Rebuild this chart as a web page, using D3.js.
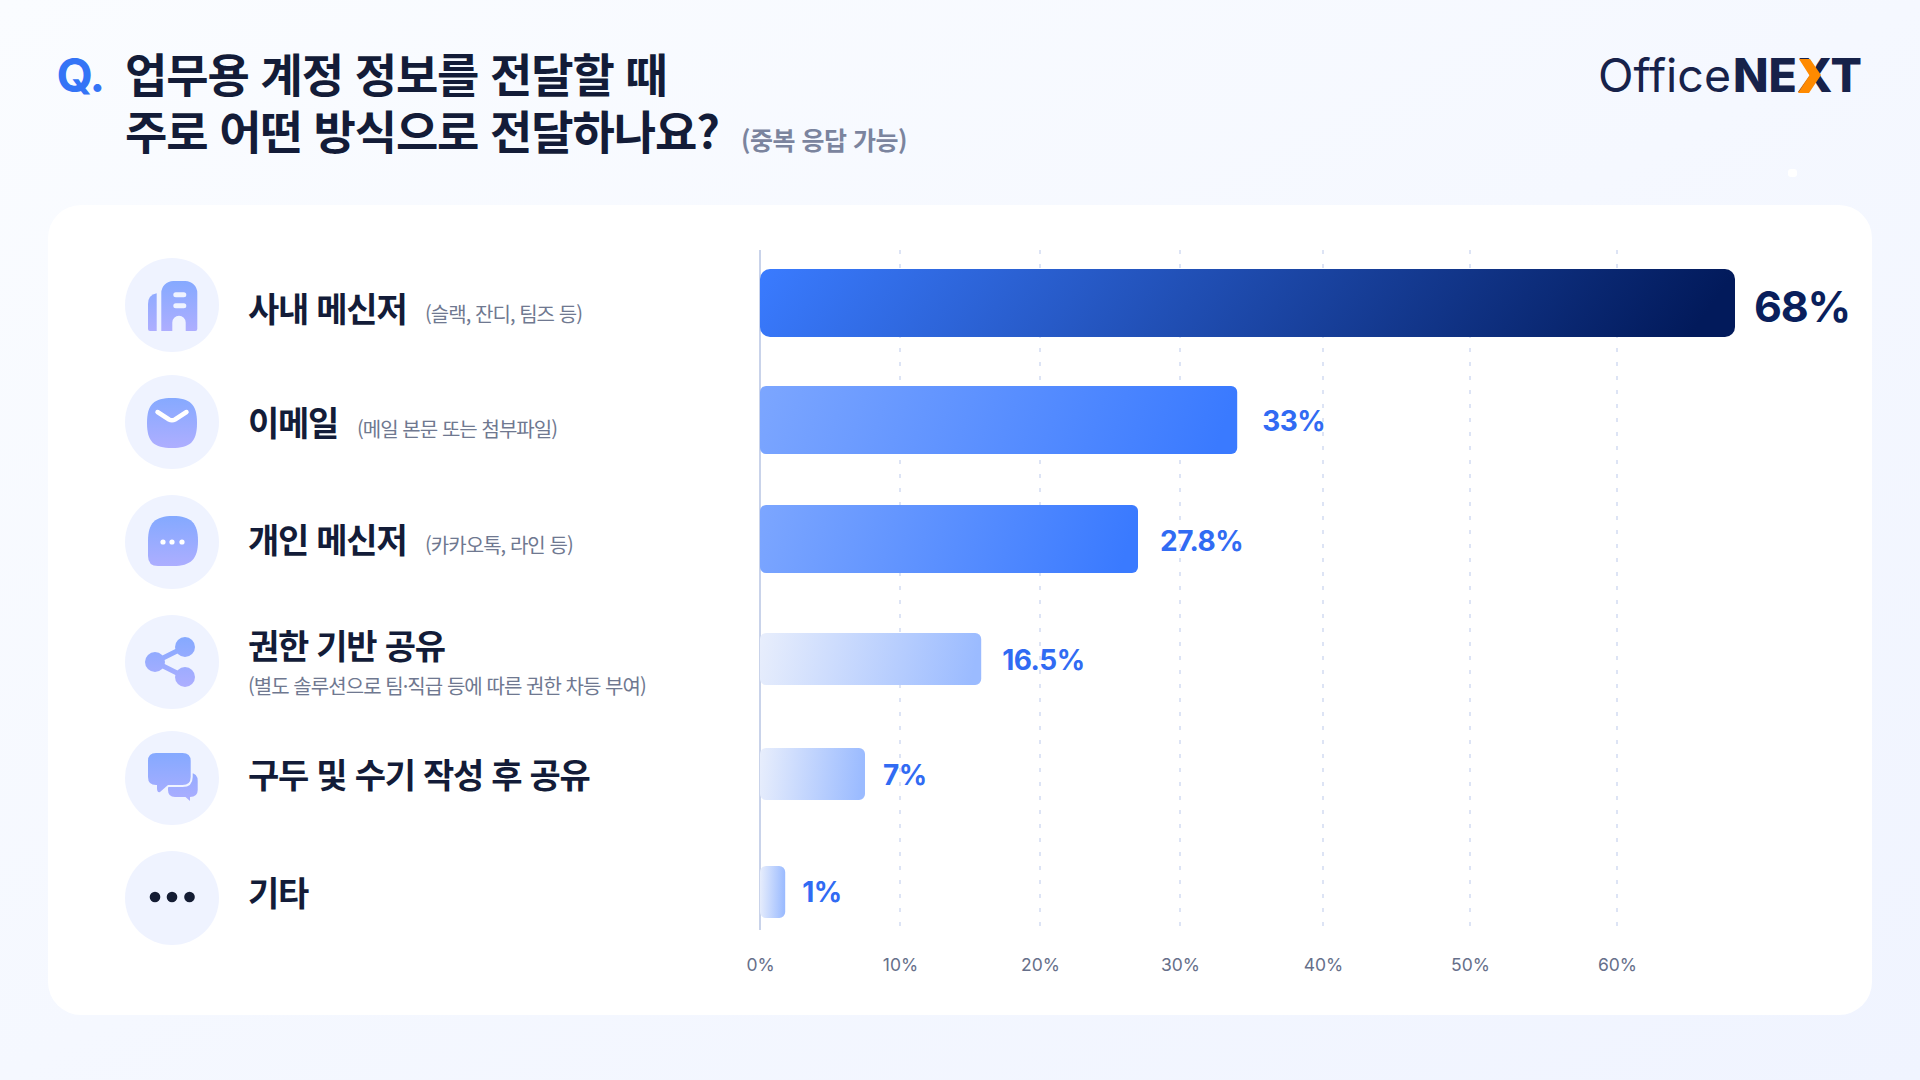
<!DOCTYPE html>
<html lang="ko">
<head>
<meta charset="utf-8">
<title>업무용 계정 정보 전달 방식</title>
<script src="https://cdn.jsdelivr.net/npm/d3@7"></script>
<style>
    html, body { margin: 0; padding: 0; background: #f3f6ff; }
    svg { display: block; }
</style>
</head>
<body>
<div id="chart"></div>
<script>
// Chart data
const categories = ['사내 메신저', '이메일', '개인 메신저', '권한 기반 공유', '구두 및 수기 작성 후 공유', '기타'];
const notes = ['(슬랙, 잔디, 팀즈 등)', '(메일 본문 또는 첨부파일)', '(카카오톡, 라인 등)', '(별도 솔루션으로 팀·직급 등에 따른 권한 차등 부여)', '', ''];
const valueLabels = ['68%', '33%', '27.8%', '16.5%', '7%', '1%'];
// Bar lengths as they read on the axis (the picture does not follow its printed labels exactly)
const barValues = [68, 34, 27, 15.8, 7.5, 1.8];
const axisTicks = [0, 10, 20, 30, 40, 50, 60];
const iconNames = ['building', 'mail', 'chat', 'share', 'bubbles', 'dots'];

const width = 1920;
const height = 1080;
const krFont = '"Noto Sans CJK KR", "Noto Sans", sans-serif';
const numFont = 'Inter, "Noto Sans", sans-serif';

const svg = d3.select('#chart').append('svg')
    .attr('width', width)
    .attr('height', height)
    .attr('viewBox', `0 0 ${width} ${height}`);

const defs = svg.append('defs');

function addGradient(id, from, to, tilt = 0.05) {
    const grad = defs.append('linearGradient')
        .attr('id', id)
        .attr('x1', 0).attr('y1', 0)
        .attr('x2', 1).attr('y2', tilt);
    grad.append('stop').attr('offset', '0%').attr('stop-color', from);
    grad.append('stop').attr('offset', '100%').attr('stop-color', to);
}

addGradient('page-bg', '#fafcff', '#f0f4ff', 1);
addGradient('bar-top', '#3a7bff', '#021a5b');
addGradient('bar-mid', '#7ca6ff', '#3a7aff');
addGradient('bar-low', '#e8eefc', '#9bbbff');

// Icon fill, in each icon's local coordinates
const iconGrad = defs.append('linearGradient')
    .attr('id', 'icon-fill')
    .attr('gradientUnits', 'userSpaceOnUse')
    .attr('x1', 0).attr('y1', -26)
    .attr('x2', 0).attr('y2', 26);
iconGrad.append('stop').attr('offset', '0%').attr('stop-color', '#84a9ff');
iconGrad.append('stop').attr('offset', '100%').attr('stop-color', '#aeaeff');

// Background and card
svg.append('rect')
    .attr('width', width)
    .attr('height', height)
    .attr('fill', 'url(#page-bg)');

svg.append('rect')
    .attr('x', 1788)
    .attr('y', 169)
    .attr('width', 9)
    .attr('height', 8)
    .attr('rx', 3)
    .attr('fill', '#ffffff');

svg.append('rect')
    .attr('x', 48)
    .attr('y', 205)
    .attr('width', 1824)
    .attr('height', 810)
    .attr('rx', 33)
    .attr('fill', '#ffffff');

// Title
svg.append('text')
    .attr('x', 56.5)
    .attr('y', 92)
    .attr('font-family', numFont)
    .attr('font-size', 47)
    .attr('font-weight', 700)
    .attr('letter-spacing', -1.5)
    .attr('fill', '#3474f6')
    .text('Q.');

const titleLines = ['업무용 계정 정보를 전달할 때', '주로 어떤 방식으로 전달하나요?'];
svg.selectAll('text.title')
    .data(titleLines)
    .join('text')
    .attr('class', 'title')
    .attr('x', 125)
    .attr('y', (d, i) => 92 + i * 57)
    .attr('font-family', krFont)
    .attr('font-size', 46)
    .attr('font-weight', 700)
    .attr('letter-spacing', -1.1)
    .attr('fill', '#131c38')
    .text(d => d);

svg.append('text')
    .attr('x', 741)
    .attr('y', 150)
    .attr('font-family', krFont)
    .attr('font-size', 25)
    .attr('font-weight', 600)
    .attr('letter-spacing', -0.5)
    .attr('fill', '#7b849e')
    .text('(중복 응답 가능)');

// Logo
svg.append('text')
    .attr('x', 1598)
    .attr('y', 92)
    .attr('font-family', numFont)
    .attr('font-size', 46)
    .attr('font-weight', 400)
    .attr('textLength', 133)
    .attr('lengthAdjust', 'spacingAndGlyphs')
    .attr('fill', '#17224a')
    .text('Office');

svg.append('text')
    .attr('x', 1733)
    .attr('y', 92)
    .attr('font-family', numFont)
    .attr('font-size', 46)
    .attr('font-weight', 800)
    .attr('textLength', 129)
    .attr('lengthAdjust', 'spacingAndGlyphs')
    .attr('fill', '#17224a')
    .text('NEXT');

svg.append('polygon')
    .attr('points', '1799,59 1810,59 1821,75 1809,93 1798,93 1809.5,75.5')
    .attr('fill', '#ff8a00');

// Scales. The printed axis is not evenly spaced, so x is piecewise over its ticks
const x = d3.scaleLinear()
    .domain([0, 10, 20, 30, 40, 50, 60, 68])
    .range([760, 900, 1040, 1180, 1323, 1470, 1617, 1735]);

const rowY = d3.scaleOrdinal()
    .domain(categories)
    .range([303, 420, 539, 659, 774, 892]);

const iconY = d3.scaleOrdinal()
    .domain(categories)
    .range([305, 422, 542, 662, 778, 898]);

const labelY = d3.scaleOrdinal()
    .domain(categories)
    .range([322, 436, 553, 659, 788, 906]);

const noteLayout = [
    { x: 425, y: 322 },
    { x: 357, y: 437 },
    { x: 425, y: 553 },
    { x: 248, y: 694 }
];

const rows = categories.map((name, i) => ({
    name,
    note: notes[i],
    label: valueLabels[i],
    value: barValues[i],
    icon: iconNames[i],
    index: i
}));

function barStyle(i) {
    if (i === 0) return { fill: 'url(#bar-top)', h: 68, r: 10 };
    if (i < 3) return { fill: 'url(#bar-mid)', h: 68, r: 6 };
    return { fill: 'url(#bar-low)', h: 52, r: 6 };
}

// Grid
const gridTop = 250;
const gridBottom = 930;

svg.selectAll('line.grid')
    .data(axisTicks.slice(1))
    .join('line')
    .attr('class', 'grid')
    .attr('x1', d => x(d))
    .attr('x2', d => x(d))
    .attr('y1', gridTop)
    .attr('y2', gridBottom)
    .attr('stroke', '#dde4f5')
    .attr('stroke-width', 2)
    .attr('stroke-dasharray', '4 10');

// Zero line, under the bars
svg.append('line')
    .attr('x1', x(0))
    .attr('x2', x(0))
    .attr('y1', gridTop)
    .attr('y2', gridBottom)
    .attr('stroke', '#c9d3ea')
    .attr('stroke-width', 2);

// Bars
svg.selectAll('rect.bar')
    .data(rows)
    .join('rect')
    .attr('class', 'bar')
    .attr('x', x(0))
    .attr('y', d => rowY(d.name) - barStyle(d.index).h / 2)
    .attr('width', d => x(d.value) - x(0))
    .attr('height', d => barStyle(d.index).h)
    .attr('rx', d => barStyle(d.index).r)
    .attr('fill', d => barStyle(d.index).fill);

// Value labels
const labelGap = [19, 25, 22, 21, 18, 17];
const labelBase = [322, 431, 551, 670, 785, 902];

svg.selectAll('text.value')
    .data(rows)
    .join('text')
    .attr('class', 'value')
    .attr('x', d => x(d.value) + labelGap[d.index])
    .attr('y', d => labelBase[d.index])
    .attr('font-family', numFont)
    .attr('font-size', d => d.index === 0 ? 43 : 28)
    .attr('font-weight', 700)
    .attr('letter-spacing', d => d.index === 0 ? -1.2 : -0.5)
    .attr('fill', d => d.index === 0 ? '#0a1f5c' : '#316bf3')
    .text(d => d.label);

// Axis
const axis = d3.axisBottom(x)
    .tickValues(axisTicks)
    .tickFormat(d => d + '%')
    .tickSize(0);

const axisG = svg.append('g')
    .attr('transform', `translate(0, ${gridBottom})`)
    .call(axis);

axisG.select('.domain').remove();
axisG.selectAll('text')
    .attr('y', 41)
    .attr('dy', 0)
    .attr('font-family', numFont)
    .attr('font-size', 17.5)
    .attr('fill', '#666f8a');

// Row labels
svg.selectAll('text.cat')
    .data(rows)
    .join('text')
    .attr('class', 'cat')
    .attr('x', 248)
    .attr('y', d => labelY(d.name))
    .attr('font-family', krFont)
    .attr('font-size', 34)
    .attr('font-weight', 700)
    .attr('letter-spacing', -1.25)
    .attr('fill', '#131c38')
    .text(d => d.name);

svg.selectAll('text.note')
    .data(rows.filter(d => d.note))
    .join('text')
    .attr('class', 'note')
    .attr('x', d => noteLayout[d.index].x)
    .attr('y', d => noteLayout[d.index].y)
    .attr('font-family', krFont)
    .attr('font-size', 20)
    .attr('font-weight', 400)
    .attr('letter-spacing', -0.95)
    .attr('fill', '#6f7890')
    .text(d => d.note);

// Icons, drawn around each circle's centre
const iconCircle = '#eff3ff';
const iconFill = 'url(#icon-fill)';

const iconDrawers = {
    building(g) {
        g.append('path')
            .attr('fill', iconFill)
            .attr('fill-rule', 'evenodd')
            .attr('d', 'M-10.7 26V-12A12 12 0 0 1 1.3 -24H13.3A12 12 0 0 1 25.3 -12V24A2 2 0 0 1 23.3 26H13.7V17.5A6.7 6.7 0 0 0 0.3 17.5V26Z'
                + 'M3.8 -12.7H11.8A2.5 2.5 0 0 1 11.8 -7.7H3.8A2.5 2.5 0 0 1 3.8 -12.7Z'
                + 'M3.8 -1.7H11.8A2.5 2.5 0 0 1 11.8 3.3H3.8A2.5 2.5 0 0 1 3.8 -1.7Z');
        g.append('path')
            .attr('fill', iconFill)
            .attr('d', 'M-24 -1Q-24 -10 -15.3 -11.7V26H-22A2 2 0 0 1 -24 24Z');
    },
    mail(g) {
        g.append('path')
            .attr('fill', iconFill)
            .attr('d', 'M-25 1C-25 -18 -18 -24 0 -24C18 -24 25 -18 25 1C25 20 18 26 0 26C-18 26 -25 20 -25 1Z');
        g.append('path')
            .attr('fill', 'none')
            .attr('stroke', '#ffffff')
            .attr('stroke-width', 4.5)
            .attr('stroke-linecap', 'round')
            .attr('d', 'M-14.5 -10L-3 -2.5Q0 -0.8 3 -2.5L14.5 -10');
    },
    chat(g) {
        g.append('path')
            .attr('fill', iconFill)
            .attr('d', 'M-24 -1C-24 -19 -17 -26 1 -26C19 -26 26 -19 26 -1C26 17 19 24 1 24H-14Q-24 24 -24 14Z');
        g.selectAll('circle')
            .data([-9, 0, 10])
            .join('circle')
            .attr('cx', d => d)
            .attr('cy', 0)
            .attr('r', 2.6)
            .attr('fill', '#ffffff');
    },
    share(g) {
        g.append('path')
            .attr('fill', 'none')
            .attr('stroke', iconFill)
            .attr('stroke-width', 5)
            .attr('d', 'M13 -15L-17 0L13 15');
        g.selectAll('circle')
            .data([[13, -15], [-17, 0], [13, 15]])
            .join('circle')
            .attr('cx', d => d[0])
            .attr('cy', d => d[1])
            .attr('r', 10)
            .attr('fill', iconFill);
    },
    bubbles(g) {
        g.append('path')
            .attr('fill', iconFill)
            .attr('d', 'M-4 -5H18Q25.7 -5 25.7 3V12Q25.7 19 18 19V23L13.5 19H3Q-4 19 -4 12Z');
        g.append('path')
            .attr('fill', iconFill)
            .attr('stroke', iconCircle)
            .attr('stroke-width', 4)
            .attr('paint-order', 'stroke')
            .attr('d', 'M-24 -17Q-24 -25 -16 -25H10.5Q18.7 -25 18.7 -17V-1Q18.7 7 10.5 7H-4L-12 14Q-14.5 15 -15 11V7H-16Q-24 7 -24 -1Z');
    },
    dots(g) {
        g.selectAll('circle')
            .data([-17, 0, 17.5])
            .join('circle')
            .attr('cx', d => d)
            .attr('cy', -1)
            .attr('r', 5.3)
            .attr('fill', '#141c33');
    }
};

const icons = svg.selectAll('g.icon')
    .data(rows)
    .join('g')
    .attr('class', 'icon')
    .attr('transform', d => `translate(172, ${iconY(d.name)})`);

icons.append('circle')
    .attr('r', 47)
    .attr('fill', iconCircle);

icons.each(function (d) {
    iconDrawers[d.icon](d3.select(this).append('g'));
});
</script>
</body>
</html>
